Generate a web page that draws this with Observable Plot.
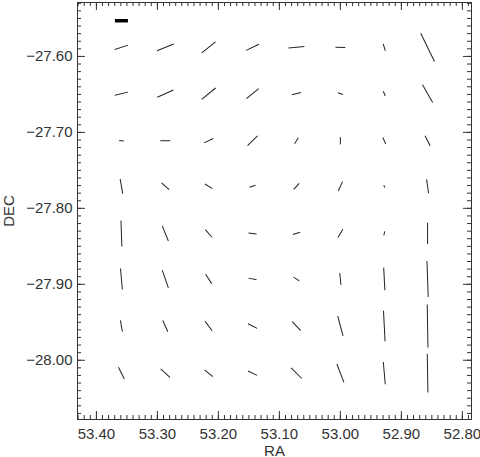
<!DOCTYPE html>
<html><head><meta charset="utf-8">
<script src="https://cdn.jsdelivr.net/npm/d3@7"></script>
<script src="https://cdn.jsdelivr.net/npm/@observablehq/plot@0.6"></script>
<style>body{margin:0;background:#fff} svg{display:block}</style>
</head><body><div id="chart"></div>
<script>
// Grid of polarization vectors (RA columns, DEC rows)
const ra = [53.359, 53.287, 53.216, 53.144, 53.072, 53.000, 52.928, 52.857];
const dec = [-27.588, -27.649, -27.711, -27.771, -27.833, -27.893, -27.955, -28.017];
// polarization (%), reference bar = 10
const pol = [
  [10.8, 13.8, 13.5, 10.9, 12.3, 7.5, 5.6, 24.2],
  [10.5, 13.5, 13.8, 12.2, 7.1, 4.1, 3.9, 15.6],
  [3.6, 7.7, 7.9, 10.7, 5.4, 5.6, 5.4, 8.6],
  [11.5, 7.8, 6.7, 4.8, 6.2, 7.9, 1.9, 10.8],
  [20.0, 12.5, 7.8, 6.2, 5.9, 7.5, 3.2, 16.4],
  [16.2, 14.4, 8.5, 6.3, 5.2, 9.2, 17.5, 27.7],
  [8.8, 9.5, 9.0, 7.8, 9.5, 15.7, 23.6, 33.1],
  [10.1, 9.6, 8.2, 7.7, 11.6, 15.1, 17.2, 29.8]
];
// orientation (degrees, clockwise from up on the page)
const angle = [
  [72, 68, 51, 64, 85, 91, -16, -26],
  [77, 66, 51, 51, 77, -71, -23, -30],
  [-82, 90, 65, 46, 32, 0, -25, -27],
  [-10, -49, -58, 72, 42, 25, -23, -8],
  [-2, -22, -41, -83, 73, 31, 14, 0],
  [-5, -19, -33, -78, -57, -6, -3, -2],
  [-10, -24, -37, -63, -43, -15, -3, -1],
  [-27, -48, -51, -64, -45, -21, -5, -1]
];
const refBar = [{ra: 53.359, dec: -27.553, p: 10, angle: 90}];
const xTicks = [53.40, 53.30, 53.20, 53.10, 53.00, 52.90, 52.80];
const yTicks = [-27.60, -27.70, -27.80, -27.90, -28.00];
const minorX = d3.range(5279, 5344).map(v => v / 100);
const minorY = d3.range(-2807, -2752).map(v => v / 100);

const data = [];
dec.forEach((d, i) => ra.forEach((r, j) => data.push({ra: r, dec: d, p: pol[i][j], angle: angle[i][j]})));

const W = 480, H = 457, mt = 2, mb = 38, ml = 77, mr = 9;
const ih = H - mt - mb, iw = W - ml - mr;
const MAJ = 8, MIN = 4;
const tc = "#333";
const stick = {draw(ctx, l) { ctx.moveTo(0, 0); ctx.lineTo(0, -l); }};

const chart = Plot.plot({
  width: W, height: H,
  marginTop: mt, marginBottom: mb, marginLeft: ml, marginRight: mr,
  style: {fontFamily: "'Liberation Sans', Arial, sans-serif", fontSize: "15px", color: "#333", background: "#fff"},
  x: {domain: [53.431, 52.785]},
  y: {domain: [-28.078, -27.529]},
  length: {type: "linear", domain: [0, 10], range: [0, 13]},
  marks: [
    Plot.tickX(minorX, {x: d => d, insetTop: ih - MIN, stroke: tc}),
    Plot.tickX(minorX, {x: d => d, insetBottom: ih - MIN, stroke: tc}),
    Plot.tickX(xTicks, {x: d => d, insetTop: ih - MAJ, stroke: tc}),
    Plot.tickX(xTicks, {x: d => d, insetBottom: ih - MAJ, stroke: tc}),
    Plot.tickY(minorY, {y: d => d, insetRight: iw - MIN, stroke: tc}),
    Plot.tickY(minorY, {y: d => d, insetLeft: iw - MIN, stroke: tc}),
    Plot.tickY(yTicks, {y: d => d, insetRight: iw - MAJ, stroke: tc}),
    Plot.tickY(yTicks, {y: d => d, insetLeft: iw - MAJ, stroke: tc}),
    Plot.frame({stroke: tc}),
    Plot.axisX({ticks: xTicks, tickSize: 0, tickPadding: 9, tickFormat: d3.format(".2f"),
      label: "RA", labelAnchor: "center", labelArrow: "none", labelOffset: 36}),
    Plot.axisY({ticks: yTicks, tickSize: 0, tickPadding: 5, tickFormat: d3.format(".2f"),
      label: "DEC", labelAnchor: "center", labelArrow: "none", labelOffset: 74}),
    Plot.vector(data, {x: "ra", y: "dec", length: "p", rotate: "angle", anchor: "middle",
      shape: stick, stroke: "#222", strokeWidth: 1, strokeLinecap: "butt"}),
    Plot.vector(refBar, {x: "ra", y: "dec", length: "p", rotate: "angle", anchor: "middle",
      shape: stick, stroke: "#000", strokeWidth: 3.5, strokeLinecap: "butt"})
  ]
});
document.getElementById("chart").appendChild(chart);
</script>
</body></html>
